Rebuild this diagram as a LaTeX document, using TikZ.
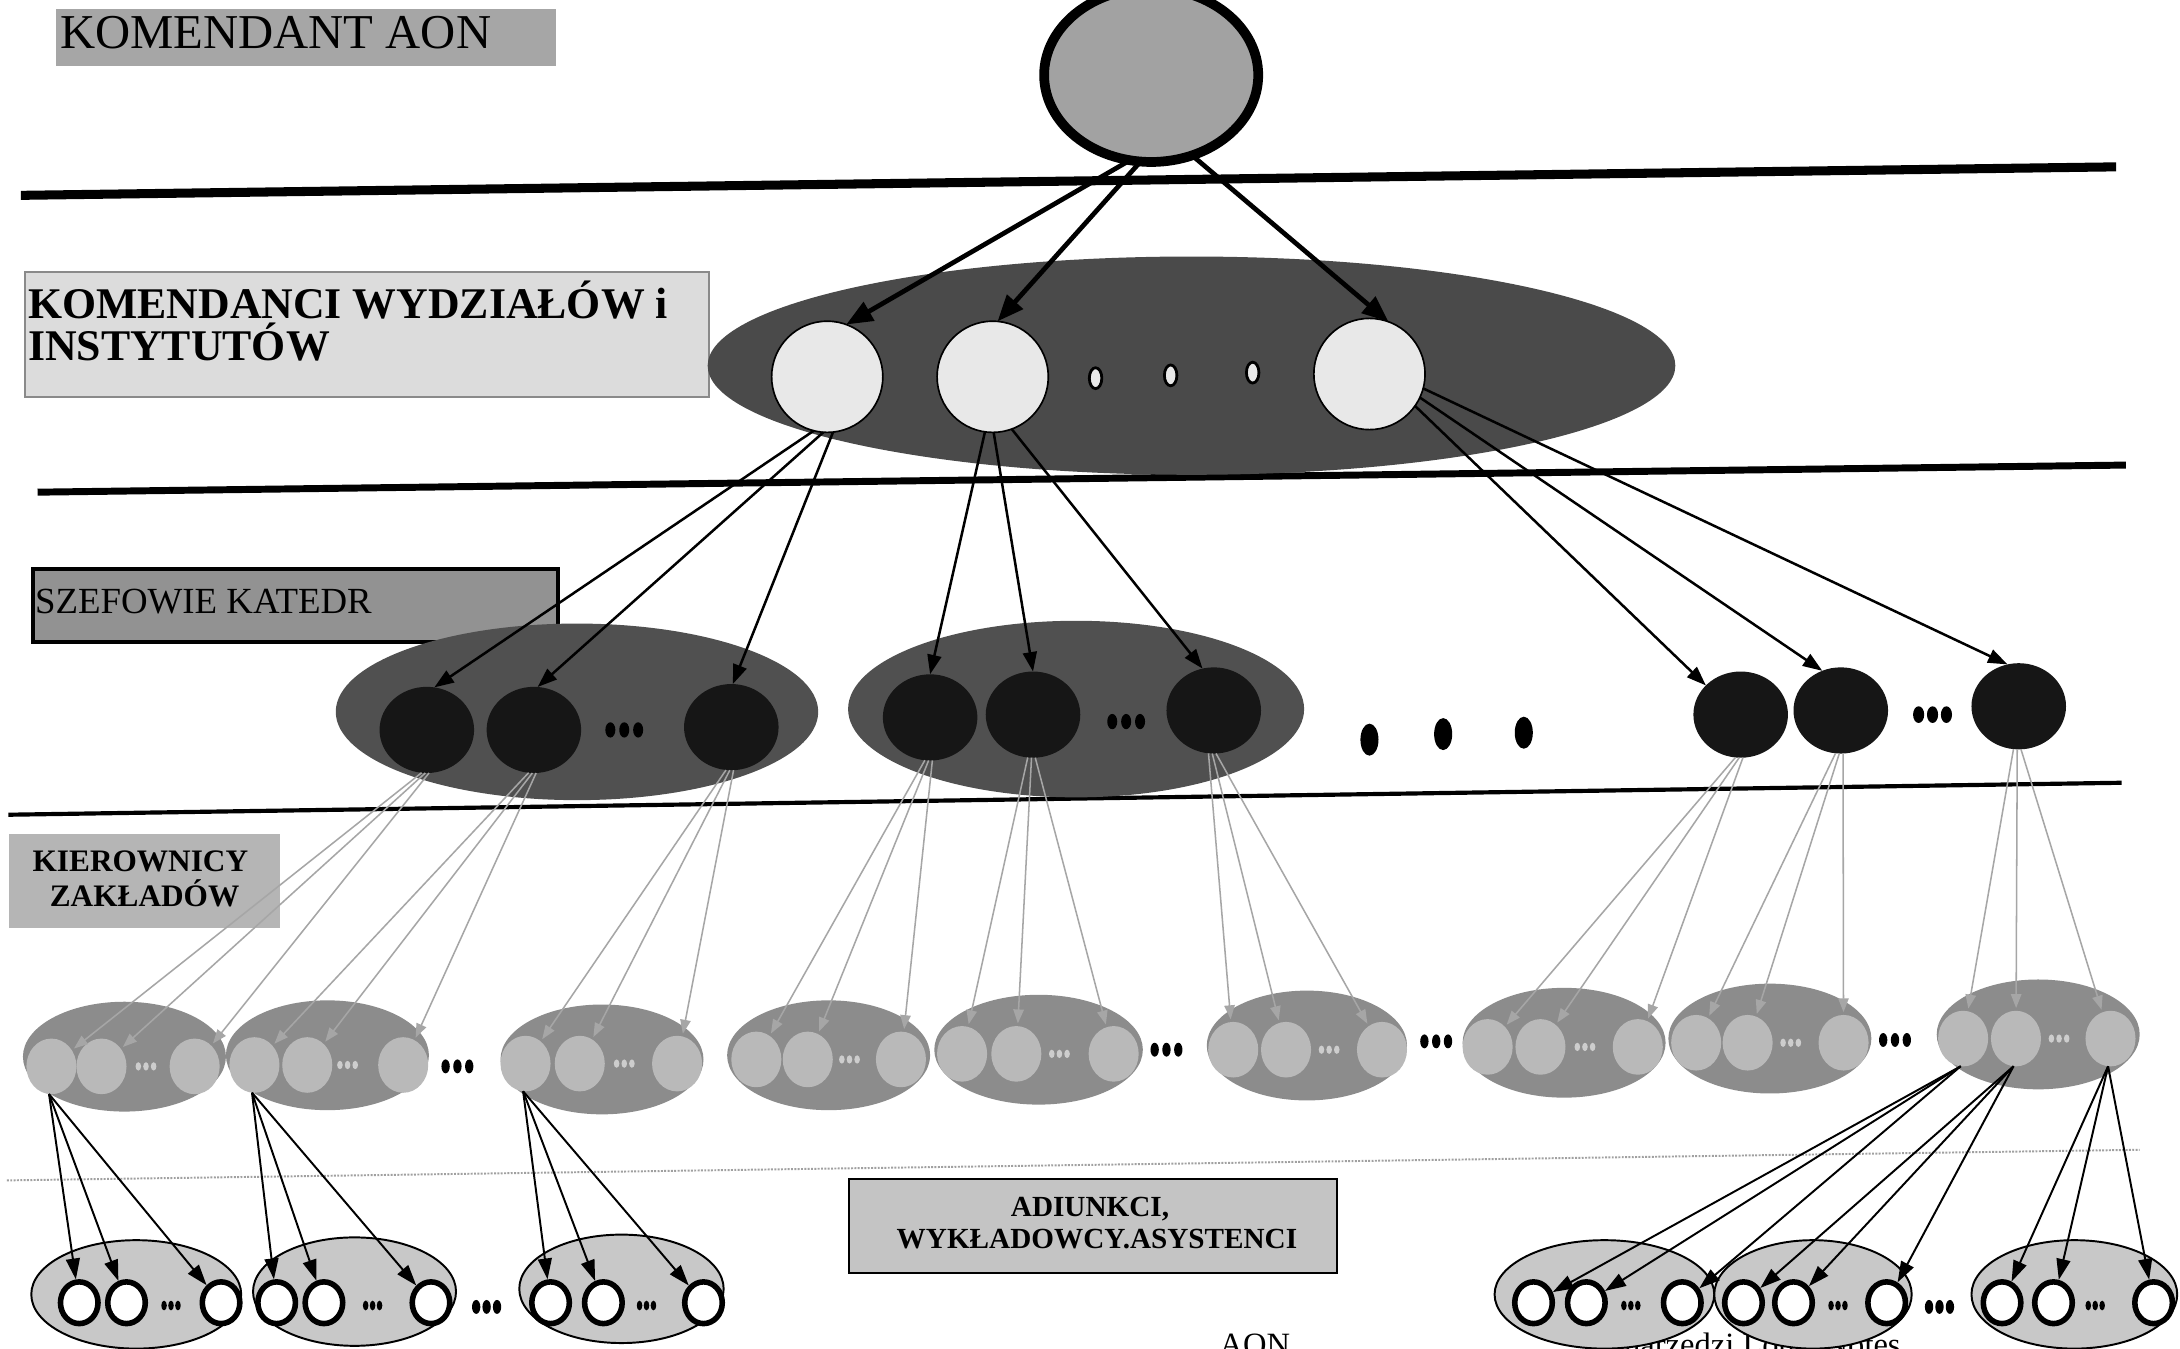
\documentclass[tikz,border=0pt]{standalone}
\usepackage{fontspec}
\setmainfont{Liberation Serif}
\usetikzlibrary{shapes.geometric,arrows.meta}

\definecolor{topfill}{HTML}{A2A2A2}
\definecolor{tagone}{HTML}{A6A6A6}
\definecolor{tagtwo}{HTML}{DCDCDC}
\definecolor{tagtwoline}{HTML}{8A8A8A}
\definecolor{tagthree}{HTML}{929292}
\definecolor{tagfour}{HTML}{B5B5B5}
\definecolor{tagfive}{HTML}{C4C4C4}
\definecolor{facfield}{HTML}{4A4A4A}
\definecolor{facwhite}{HTML}{E8E8E8}
\definecolor{depfield}{HTML}{505050}
\definecolor{depblack}{HTML}{161616}
\definecolor{zakfield}{HTML}{8C8C8C}
\definecolor{zakcirc}{HTML}{B9B9B9}
\definecolor{zakdot}{HTML}{CDCDCD}
\definecolor{advfield}{HTML}{C8C8C8}
\definecolor{arrgray}{HTML}{A6A6A6}
\definecolor{sepgray}{HTML}{A0A0A0}

\tikzset{
  pics/tridots/.style n args={4}{code={%
    \foreach \k in {-1,0,1}{\fill[#4] (\k*#1,0) ellipse ({#2} and {#3});}}},
  tagbox/.style={rectangle, anchor=north west, inner sep=0pt},
  oval/.style={ellipse, inner sep=0pt, outer sep=0pt},
  topnode/.style={oval, draw=black, line width=7pt, fill=topfill,
    minimum width=154pt, minimum height=125pt},
  facnode/.style={oval, draw=black, line width=1.2pt, fill=facwhite,
    minimum width=80pt, minimum height=80pt},
  facdot/.style={oval, draw=black, line width=2pt, fill=facwhite,
    minimum width=9pt, minimum height=15pt},
  depell/.style={oval, fill=depfield, minimum height=127pt},
  depnode/.style={oval, fill=depblack, minimum width=68pt, minimum height=62pt},
  zakell/.style={oval, fill=zakfield, minimum height=79pt},
  zaknode/.style={oval, fill=zakcirc, minimum width=36pt, minimum height=40pt},
  advell/.style={oval, draw=black, line width=1.4pt, fill=advfield, minimum height=78pt},
  advnode/.style={oval, draw=black, line width=4pt, fill=white,
    minimum width=27pt, minimum height=30pt},
  toparr/.style={line width=3.4pt, -{Triangle[length=19pt,width=15pt]}},
  katarr/.style={line width=1.8pt, -{Triangle[length=14pt,width=10pt]}},
  zakarr/.style={draw=arrgray, line width=1.1pt, shorten >=2pt,
    -{Triangle[length=10pt,width=7.5pt]}},
  advarr/.style={line width=1.4pt, shorten >=2pt, -{Triangle[length=15pt,width=10pt]}},
  tagtext/.style={inner sep=0pt, text=black}
}

\begin{document}
\begin{tikzpicture}[x=1pt,y=-1pt]
\path[use as bounding box] (0,0) rectangle (1568,970);
\clip (0,0) rectangle (1568,970);
\fill[white] (0,0) rectangle (1568,970);

% rank separators
\draw[line width=6.5pt] (15,140.5) -- (1522,120);
\draw[line width=5pt] (27,354) -- (1529,334.5);
\draw[line width=3pt] (6,586) -- (1526,563);
\draw[line width=1.4pt, sepgray, densely dotted] (5,849) -- (1539,827);

% caption line running off the lower edge (lies beneath the lowest ovals)
\node[tagtext, anchor=base west, font=\fontsize{23.4}{23.4}\selectfont] (capa) at (877,975) {AON};
\node[tagtext, anchor=base west, font=\fontsize{23.4}{23.4}\selectfont] (capb) at (1168,975) {narzędzi Lotus Notes};

% ---- rank 1: commander
\node[tagbox, fill=tagone, minimum width=360pt, minimum height=41pt] (tag1) at (40,6) {};
\node[tagtext, anchor=base west, font=\fontsize{35}{35}\selectfont] (tag1t) at (43,35) {KOMENDANT AON};
\node[topnode] (kom) at (828,54) {};

% ---- rank 2: faculties and institutes
\node[tagbox, fill=tagtwo, draw=tagtwoline, line width=1.5pt, minimum width=492pt, minimum height=90pt] (tag2) at (17,195) {};
\node[tagtext, anchor=base west, font=\fontsize{31.5}{31.5}\selectfont\bfseries] (tag2a) at (20,229) {KOMENDANCI WYDZIAŁÓW i};
\node[tagtext, anchor=base west, font=\fontsize{31.5}{31.5}\selectfont\bfseries] (tag2b) at (20,259) {INSTYTUTÓW};

\node[oval, fill=facfield, minimum width=696pt, minimum height=157pt] (fac) at (857,263) {};
\node[facnode] (k1) at (595,271) {};
\node[facnode] (k2) at (714,271) {};
\node[facnode] (k3) at (985,269) {};
\node[facdot] (kd1) at (788,272) {};
\node[facdot] (kd2) at (842,270) {};
\node[facdot] (kd3) at (901,268) {};

\draw[toparr] (kom.-104) -- (k1.70);
\draw[toparr] (kom.-97) -- (k2.85);
\draw[toparr] (kom.-63) -- (k3.70);

% ---- rank 3: heads of chairs
\node[tagbox, fill=tagthree, draw=black, line width=3pt, minimum width=378pt, minimum height=52pt] (tag3) at (22,408) {};
\node[tagtext, anchor=base west, font=\fontsize{26.5}{26.5}\selectfont] (tag3t) at (25,441) {SZEFOWIE KATEDR};

\node[depell, minimum width=347pt] (dA) at (415,512) {};
\node[depell, minimum width=328pt] (dB) at (774,510) {};
\node[depnode] (a1) at (307,525) {};
\node[depnode] (a2) at (384,525) {};
\node[depnode] (a3) at (526,523) {};
\node[depnode] (b1) at (669,516) {};
\node[depnode] (b2) at (743,514) {};
\node[depnode] (b3) at (873,511) {};
\node[depnode] (c1) at (1252,514) {};
\node[depnode] (c2) at (1324,511) {};
\node[depnode] (c3) at (1452,508) {};
\pic at (449,525) {tridots={10}{3.6}{5.5}{black}};
\pic at (810,519) {tridots={10}{3.6}{5.5}{black}};
\pic at (1390,514) {tridots={10}{4}{6}{black}};
\fill (985,532) ellipse (6.5 and 11.5);
\fill (1038,528) ellipse (6.5 and 11.5);
\fill (1096,527) ellipse (6.5 and 11.5);

\draw[katarr] (k1.-104) -- (a1.80);
\draw[katarr] (k1.-94) -- (a2.85);
\draw[katarr] (k1.-84) -- (a3.88);
\draw[katarr] (k2.-98) -- (b1.90);
\draw[katarr] (k2.-89) -- (b2.90);
\draw[katarr] (k2.-70) -- (b3.105);
\draw[katarr] (k3.-35) -- (c1.140);
\draw[katarr] (k3.-25) -- (c2.115);
\draw[katarr] (k3.-15) -- (c3.105);

% ---- rank 4: heads of departments
\node[tagbox, fill=tagfour, minimum width=195pt, minimum height=67pt] (tag4) at (6,600) {};
\node[tagtext, anchor=base, font=\fontsize{22.5}{22.5}\selectfont\bfseries] (tag4a) at (101,627) {KIEROWNICY};
\node[tagtext, anchor=base, font=\fontsize{22.5}{22.5}\selectfont\bfseries] (tag4b) at (104,652) {ZAKŁADÓW};

\foreach \n/\ex/\ey/\ew/\cy/\xa/\xb/\xc/\xd in {
  1/89.5/760/146/767/37/73/140/105,
  2/235.5/759/146/766/183/221/290/250,
  3/433/762/146/765/378/417/487/449,
  4/596/759/146/762/544/581/648/611,
  5/747/755/150/758/692/731/801/762,
  6/940/752/144/755/887/925/994/956,
  7/1125/750/146/753/1070/1108/1178/1140,
  8/1273/747/146/750/1220/1257/1326/1288,
  9/1466/744/146/747/1412/1450/1518/1481}{
  \node[zakell, minimum width=\ew pt] (E\n) at (\ex,\ey) {};
  \node[zaknode] (e\n a) at (\xa,\cy) {};
  \node[zaknode] (e\n b) at (\xb,\cy) {};
  \node[zaknode] (e\n c) at (\xc,\cy) {};
  \pic at (\xd,\cy) {tridots={5.5}{2}{3}{zakdot}};
}
\pic at (329,767) {tridots={8.5}{3}{5}{black}};
\pic at (839,755) {tridots={8.5}{3}{5}{black}};
\pic at (1033,749) {tridots={8.5}{3}{5}{black}};
\pic at (1363,748) {tridots={8.5}{3}{5}{black}};

\foreach \n/\s in {1/a1,2/a2,3/a3,4/b1,5/b2,6/b3,7/c1,8/c2,9/c3}{
  \draw[zakarr] (\s.-97) -- (e\n a);
  \draw[zakarr] (\s.-92) -- (e\n b);
  \draw[zakarr] (\s.-87) -- (e\n c);
}

% ---- rank 5: staff
\node[tagbox, fill=tagfive, draw=black, line width=1.5pt, minimum width=351pt, minimum height=68pt] (tag5) at (610,847) {};
\node[tagtext, anchor=base, font=\fontsize{21}{21}\selectfont\bfseries] (tag5a) at (784,875) {ADIUNKCI,};
\node[tagtext, anchor=base, font=\fontsize{21}{21}\selectfont\bfseries] (tag5b) at (789,898) {WYKŁADOWCY.ASYSTENCI};

\foreach \n/\fx/\fy/\fw/\xa/\xb/\xc/\xd in {
  1/98/931/151/57/91/159/123,
  2/255/929/146/199/233/310/268,
  3/447/927/147/396/434/506/465,
  4/1154/931/158/1103/1141/1210/1173,
  5/1304/931/142/1254/1290/1357/1322,
  6/1492/931/148/1440/1477/1549/1507}{
  \node[advell, minimum width=\fw pt] (F\n) at (\fx,\fy) {};
  \node[advnode] (f\n a) at (\xa,937) {};
  \node[advnode] (f\n b) at (\xb,937) {};
  \node[advnode] (f\n c) at (\xc,937) {};
  \pic at (\xd,939) {tridots={5}{2}{3.5}{black}};
}
\pic at (350,940) {tridots={7.5}{3}{5}{black}};
\pic at (1395,940) {tridots={7.5}{3}{5}{black}};

\foreach \n/\s in {1/e1a,2/e2a,3/e3a,4/e9a,5/e9b,6/e9c}{
  \draw[advarr] (\s.-95) -- (f\n a);
  \draw[advarr] (\s.-95) -- (f\n b);
  \draw[advarr] (\s.-95) -- (f\n c);
}
\end{tikzpicture}
\end{document}
